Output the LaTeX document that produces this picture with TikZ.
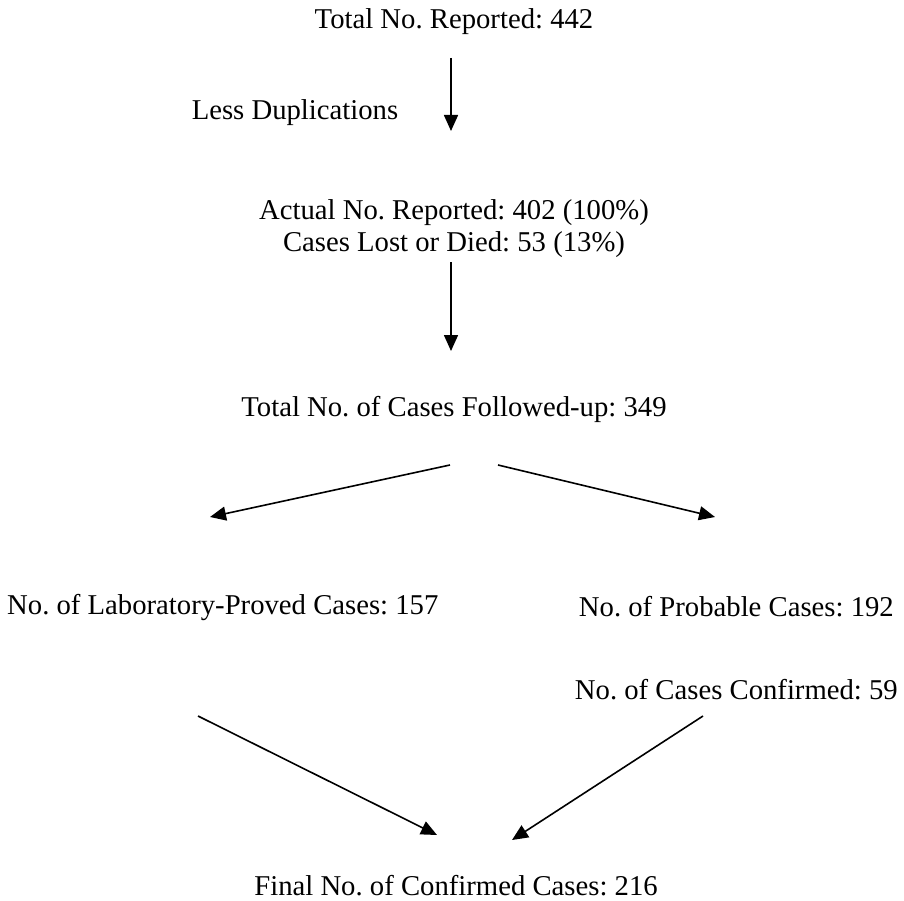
\documentclass[tikz,border=0pt]{standalone}
\usepackage{fontspec}
\setmainfont{Liberation Serif}
\usetikzlibrary{arrows.meta}
\begin{document}
\frenchspacing
\begin{tikzpicture}[x=1pt,y=-1pt,
  lbl/.style={inner sep=0pt,anchor=center,font=\fontsize{28.7}{33}\selectfont},
  arr/.style={line width=1.6pt,-{Triangle[length=16pt,width=14pt]}}]
\useasboundingbox (0,0) rectangle (904,901);
\node[lbl] (t) at (454,22) {Total No. Reported: 442};
\node[lbl] (less) at (295,113) {Less Duplications};
\node[lbl] (act) at (454,213) {Actual No. Reported: 402 (100\%)};
\node[lbl] (lost) at (454,245) {Cases Lost or Died: 53 (13\%)};
\node[lbl] (fu) at (454,409) {Total No. of Cases Followed-up: 349};
\node[lbl,anchor=west] (lab) at (7,607) {No. of Laboratory-Proved Cases: 157};
\node[lbl,anchor=east] (prob) at (894,607) {No. of Probable Cases: 192};
\node[lbl,anchor=east] (conf) at (898,690) {No. of Cases Confirmed: 59};
\node[lbl] (fin) at (456,886) {Final No. of Confirmed Cases: 216};
\coordinate (a1s) at (451,58); \coordinate (a1e) at (451,131);
\coordinate (a2s) at (451,262); \coordinate (a2e) at (451,351);
\coordinate (a3s) at (450,465); \coordinate (a3e) at (210,517);
\coordinate (a4s) at (498,465); \coordinate (a4e) at (715,517);
\coordinate (a5s) at (198,716); \coordinate (a5e) at (437,835);
\coordinate (a6s) at (703,716); \coordinate (a6e) at (512,840);
\draw[arr] (a1s) -- (a1e);
\draw[arr] (a2s) -- (a2e);
\draw[arr] (a3s) -- (a3e);
\draw[arr] (a4s) -- (a4e);
\draw[arr] (a5s) -- (a5e);
\draw[arr] (a6s) -- (a6e);
\end{tikzpicture}
\end{document}
